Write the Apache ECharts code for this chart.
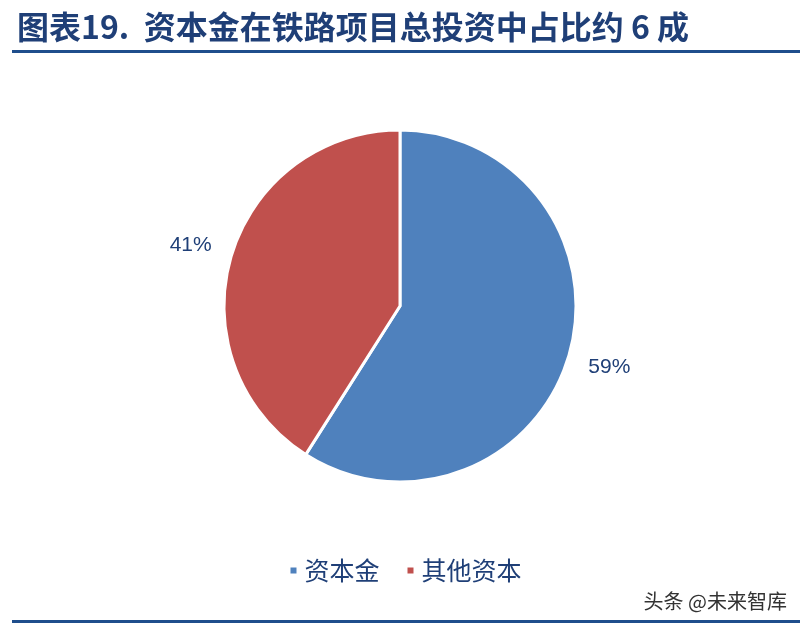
<!DOCTYPE html>
<html><head><meta charset="utf-8">
<script src="https://cdn.jsdelivr.net/npm/echarts@6/dist/echarts.min.js"></script>
<style>html,body{margin:0;padding:0;background:#fff}#c{width:810px;height:626px}</style>
</head><body><div id="c"></div>
<script>
const categories = ['资本金', '其他资本'];
const values = [59, 41];
const colors = ['#4f81bd', '#c0504d'];
const titleText = '图表19.  资本金在铁路项目总投资中占比约 6 成';
const watermark = '头条 @未来智库';

const chart = echarts.init(document.getElementById('c'));
chart.setOption({
  animation: false,
  title: [{
    text: titleText, left: 12, top: 6,
    textStyle: { fontFamily: 'Noto Sans CJK SC', fontWeight: 'bold', fontSize: 32, color: '#1f3f77' }
  }, {
    text: watermark, right: 18, top: 586,
    textStyle: { fontFamily: 'Noto Sans CJK SC', fontWeight: 'normal', fontSize: 20, color: '#333' }
  }],
  graphic: [
    { type: 'rect', shape: { x: 12, y: 50, width: 788, height: 3 }, style: { fill: '#1f4e8c' } },
    { type: 'rect', shape: { x: 12, y: 620, width: 788, height: 3 }, style: { fill: '#1f4e8c' } }
  ],
  legend: {
    bottom: 38, left: 'center', itemWidth: 8, itemHeight: 8, itemGap: 26, icon: 'rect',
    textStyle: { fontFamily: 'Noto Sans CJK SC', fontSize: 25, color: '#1f3f77', padding: [0, 0, 0, 2] },
    data: categories
  },
  series: [{
    type: 'pie',
    center: [400, 306],
    radius: 176,
    startAngle: 90,
    clockwise: true,
    data: categories.map((n, i) => ({ name: n, value: values[i], itemStyle: { color: colors[i] } })),
    itemStyle: { borderColor: '#fff', borderWidth: 3 },
    label: {
      show: true, position: 'outside', formatter: '{c}%', distanceToLabelLine: 0,
      fontFamily: 'Liberation Sans', fontSize: 21, color: '#1f3f77'
    },
    labelLine: { show: false, length: 42, length2: 0 },
    labelLayout: { align: 'center', verticalAlign: 'middle' },
    emphasis: { disabled: true }
  }]
});
</script></body></html>
